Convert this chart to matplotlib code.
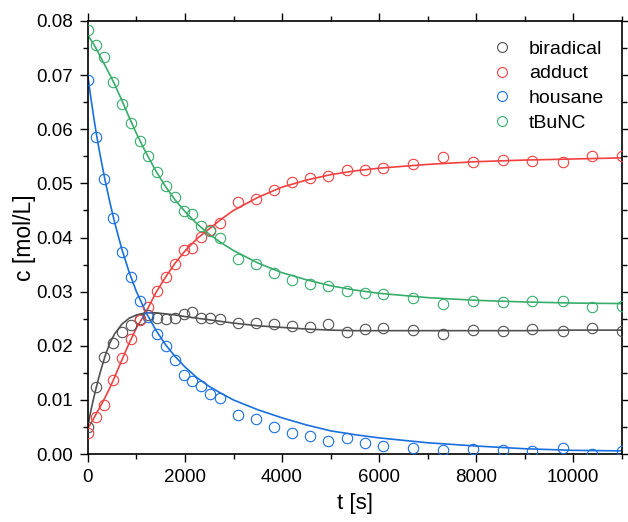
import matplotlib
matplotlib.use("Agg")
import matplotlib.pyplot as plt
from matplotlib.ticker import MultipleLocator, FormatStrFormatter

plt.rcParams['font.family'] = ['Liberation Sans', 'DejaVu Sans']

# measured concentrations
t_meas = [0, 165, 340, 525, 710, 890, 1070, 1245, 1430, 1610, 1795, 1970, 2150,
          2330, 2515, 2720, 3100, 3465, 3840, 4215, 4585, 4955, 5335, 5710, 6075,
          6695, 7315, 7930, 8550, 9160, 9780, 10390, 11000]

biradical = [0.0050, 0.0124, 0.0179, 0.0205, 0.0226, 0.0238, 0.0250, 0.0257, 0.0252,
             0.0249, 0.0252, 0.0258, 0.0263, 0.0251, 0.0252, 0.0249, 0.0242, 0.0242,
             0.0240, 0.0237, 0.0235, 0.0240, 0.0226, 0.0231, 0.0233, 0.0230, 0.0222,
             0.0229, 0.0227, 0.0231, 0.0227, 0.0232, 0.0227]
adduct = [0.0039, 0.0069, 0.0091, 0.0137, 0.0178, 0.0212, 0.0248, 0.0272, 0.0302,
          0.0328, 0.0351, 0.0377, 0.0380, 0.0401, 0.0413, 0.0426, 0.0465, 0.0471,
          0.0488, 0.0502, 0.0509, 0.0514, 0.0524, 0.0525, 0.0529, 0.0535, 0.0548,
          0.0540, 0.0543, 0.0542, 0.0540, 0.0551, 0.0550]
housane = [0.0691, 0.0585, 0.0508, 0.0436, 0.0374, 0.0327, 0.0283, 0.0254, 0.0221,
           0.0200, 0.0174, 0.0146, 0.0135, 0.0126, 0.0111, 0.0104, 0.0073, 0.0065,
           0.0050, 0.0039, 0.0033, 0.0025, 0.0029, 0.0021, 0.0015, 0.0012, 0.0008,
           0.0009, 0.0007, 0.0006, 0.0011, 0.0000, 0.0005]
tbunc = [0.0784, 0.0755, 0.0733, 0.0688, 0.0646, 0.0612, 0.0578, 0.0551, 0.0521,
         0.0496, 0.0474, 0.0449, 0.0444, 0.0422, 0.0412, 0.0399, 0.0360, 0.0351,
         0.0335, 0.0322, 0.0315, 0.0311, 0.0301, 0.0298, 0.0295, 0.0289, 0.0277,
         0.0283, 0.0280, 0.0282, 0.0283, 0.0272, 0.0274]

# kinetic fit curves
t_fit = [0, 60, 120, 180, 250, 350, 450, 550, 700, 850, 1000, 1200, 1400, 1600,
         1800, 2000, 2250, 2500, 2750, 3000, 3500, 4000, 4500, 5000, 5500, 6000,
         7000, 8000, 9000, 10000, 11000]

biradical_fit = [0.0052, 0.0080, 0.0104, 0.0126, 0.0150, 0.0180, 0.0205, 0.0222,
                 0.0240, 0.0251, 0.0257, 0.0261, 0.0261, 0.0259, 0.0257, 0.0254,
                 0.0251, 0.0248, 0.0245, 0.0242, 0.0237, 0.0234, 0.0231, 0.0229,
                 0.0228, 0.0228, 0.0228, 0.0228, 0.0228, 0.0229, 0.0229]
adduct_fit = [0.0048, 0.0057, 0.0066, 0.0076, 0.0087, 0.0104, 0.0122, 0.0142, 0.0174,
              0.0205, 0.0233, 0.0263, 0.0298, 0.0327, 0.0353, 0.0375, 0.0398, 0.0416,
              0.0434, 0.0450, 0.0474, 0.0493, 0.0506, 0.0516, 0.0523, 0.0528, 0.0535,
              0.0540, 0.0543, 0.0545, 0.0547]
housane_fit = [0.0697, 0.0658, 0.0622, 0.0588, 0.0553, 0.0507, 0.0466, 0.0428, 0.0378,
               0.0336, 0.0300, 0.0261, 0.0229, 0.0202, 0.0180, 0.0161, 0.0141, 0.0125,
               0.0112, 0.0100, 0.0082, 0.0067, 0.0054, 0.0043, 0.0036, 0.0030, 0.0021,
               0.0015, 0.0010, 0.0007, 0.0006]
tbunc_fit = [0.0773, 0.0765, 0.0757, 0.0747, 0.0735, 0.0718, 0.0701, 0.0683, 0.0653,
             0.0622, 0.0592, 0.0556, 0.0523, 0.0494, 0.0469, 0.0448, 0.0425, 0.0406,
             0.0390, 0.0376, 0.0353, 0.0335, 0.0322, 0.0311, 0.0303, 0.0297, 0.0289,
             0.0284, 0.0281, 0.0279, 0.0278]

labels = ['biradical', 'adduct', 'housane', 'tBuNC']
colors = ['#515151', '#F14040', '#1A6FDF', '#37AD6B']
series = [biradical, adduct, housane, tbunc]
fits = [biradical_fit, adduct_fit, housane_fit, tbunc_fit]

fig = plt.figure(figsize=(6.28, 5.22), dpi=100)
ax = fig.add_axes([0.140, 0.130, 0.850, 0.830])

for y, yf, col, lab in zip(series, fits, colors, labels):
    ax.plot(t_fit, yf, color=col, lw=1.2, zorder=2)
    ax.plot(t_meas, y, 'o', ms=7.5, mfc='none', mec=col, mew=0.8,
            label=lab, zorder=3)

ax.set_xlim(0, 11000)
ax.set_ylim(0, 0.08)
ax.xaxis.set_major_locator(MultipleLocator(2000))
ax.xaxis.set_minor_locator(MultipleLocator(1000))
ax.yaxis.set_major_locator(MultipleLocator(0.01))
ax.yaxis.set_minor_locator(MultipleLocator(0.005))
ax.yaxis.set_major_formatter(FormatStrFormatter('%.2f'))

ax.tick_params(which='both', direction='out', top=True, right=True,
               labelsize=13.5, width=1.0, pad=5)
ax.tick_params(which='major', length=6)
ax.tick_params(which='minor', length=3.5)
for sp in ax.spines.values():
    sp.set_linewidth(1.2)

ax.set_xlabel('t [s]', fontsize=16, labelpad=5)
ax.set_ylabel('c [mol/L]', fontsize=16.5, labelpad=0)

ax.legend(loc='upper right', bbox_to_anchor=(1.0, 0.996), frameon=False,
          fontsize=14, handletextpad=0.8, labelspacing=0.36,
          handlelength=1.2, markerscale=0.95)

fig.savefig('out.png', dpi=100)
